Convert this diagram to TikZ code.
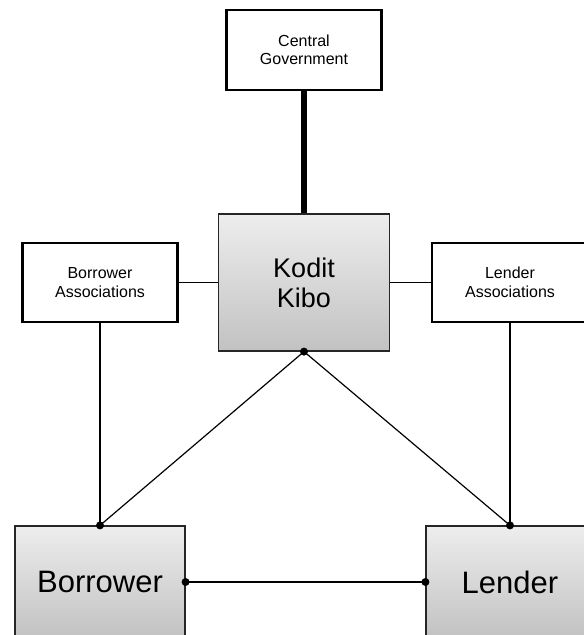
\documentclass[tikz,border=0pt]{standalone}
\usepackage{fontspec}
\setmainfont{Liberation Sans}
\begin{document}
\begin{tikzpicture}[x=1pt,y=-1pt,
  whitebox/.style={draw=black, line width=2.6pt, fill=white, rectangle, align=center, inner sep=0pt},
  greybox/.style={draw=black!85, line width=1.2pt, rectangle, align=center, inner sep=0pt,
    top color=black!7, bottom color=black!24},
  smalltext/.style={font=\fontsize{16}{18.5}\selectfont},
  midtext/.style={font=\fontsize{27}{30}\selectfont},
  bigtext/.style={font=\fontsize{31}{34}\selectfont},
  link/.style={draw=black, line width=1.2pt},
  thicklink/.style={draw=black, line width=6pt},
  dot/.style={circle, fill=black, inner sep=0pt, minimum size=8pt}
]
\useasboundingbox (0,0) rectangle (584,635);
\clip (0,0) rectangle (584,635);
\fill[white] (0,0) rectangle (584,635);

% connectors first (behind boxes)
\node[whitebox, smalltext, minimum width=155pt, minimum height=80pt] (cg) at (304,50) {Central\\Government};
\node[greybox, midtext, minimum width=171pt, minimum height=137pt] (kk) at (304,282.5) {Kodit\\Kibo};
\node[whitebox, smalltext, minimum width=155pt, minimum height=79pt] (ba) at (100,282.5) {Borrower\\Associations};
\node[whitebox, smalltext, minimum width=156pt, minimum height=79pt] (la) at (510,282.5) {Lender\\Associations};
\node[greybox, bigtext, minimum width=170pt, minimum height=112pt] (bor) at (100,582) {Borrower};
\node[greybox, bigtext, minimum width=168pt, minimum height=112pt] (len) at (510,582) {Lender};

\draw[thicklink] (cg.south) -- (kk.north);
\draw[link] (ba.east) -- (kk.west);
\draw[link] (kk.east) -- (la.west);
\draw[link] (ba.south) -- (bor.north);
\draw[link] (la.south) -- (len.north);
\draw[link] (kk.south) -- (bor.north);
\draw[link] (kk.south) -- (len.north);
\draw[link] (bor.east) -- (len.west);

\node[dot] (d1) at (kk.south) {};
\node[dot] (d2) at (bor.north) {};
\node[dot] (d3) at (len.north) {};
\node[dot] (d4) at (bor.east) {};
\node[dot] (d5) at (len.west) {};
\end{tikzpicture}
\end{document}
